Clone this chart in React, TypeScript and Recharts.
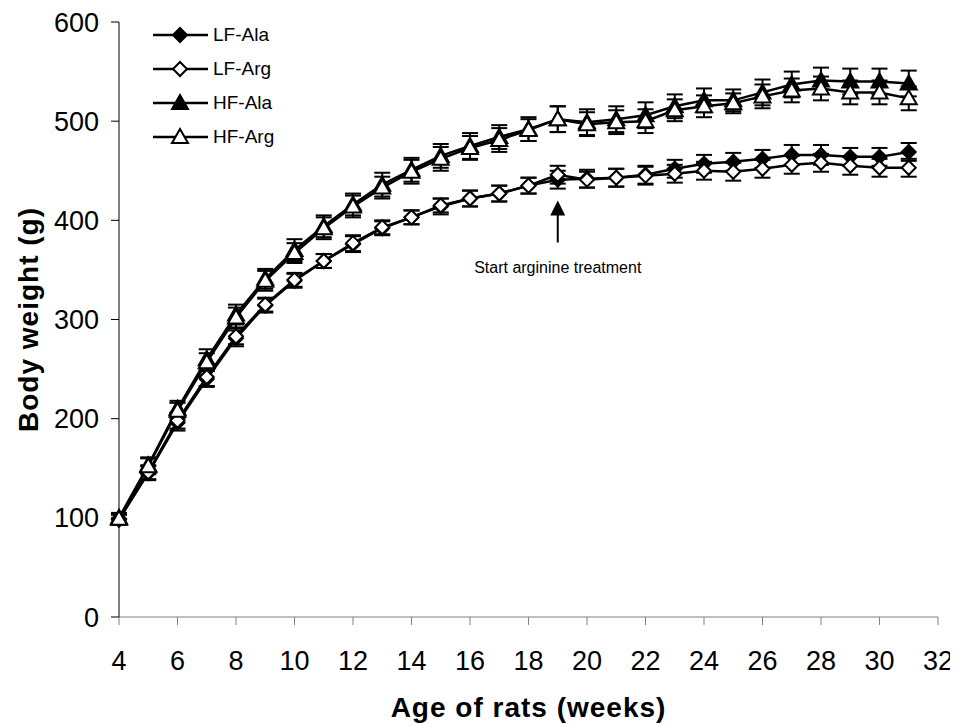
import { LineChart, Line, XAxis, YAxis, ErrorBar, Legend, ReferenceDot, Label } from 'recharts';

// age of rats, weeks
const weeks = [4, 5, 6, 7, 8, 9, 10, 11, 12, 13, 14, 15, 16, 17, 18, 19, 20, 21, 22, 23, 24, 25, 26, 27, 28, 29, 30, 31];

// body weight (g)
const lfAla = [99, 145, 196, 240, 281, 314, 339, 359, 376, 392, 403, 414, 422, 427, 435, 441, 442, 443, 446, 452, 457, 459, 462, 466, 466, 464, 464, 469];
const lfArg = [98, 146, 198, 242, 283, 315, 340, 359, 377, 393, 403, 415, 422, 427, 435, 446, 441, 443, 445, 447, 450, 449, 452, 456, 458, 455, 453, 453];
const hfAla = [100, 153, 210, 260, 305, 341, 370, 394, 416, 436, 451, 465, 475, 484, 492, 502, 499, 502, 506, 515, 521, 521, 529, 537, 541, 540, 540, 538];
const hfArg = [99, 152, 208, 257, 302, 339, 367, 392, 414, 433, 449, 462, 473, 481, 491, 502, 497, 499, 500, 511, 515, 518, 525, 531, 533, 529, 529, 523];

// SEM
const lfAlaErr = [5, 7, 8, 8, 8, 7, 7, 7, 8, 7, 7, 8, 8, 8, 8, 9, 9, 9, 9, 9, 9, 9, 9, 10, 10, 9, 9, 9];
const lfArgErr = [5, 7, 8, 9, 8, 7, 7, 7, 8, 7, 7, 7, 8, 8, 8, 9, 8, 9, 9, 9, 9, 9, 9, 9, 9, 9, 9, 9];
const hfAlaErr = [5, 8, 8, 10, 10, 10, 11, 11, 11, 12, 12, 12, 13, 12, 12, 13, 13, 13, 13, 12, 12, 11, 13, 13, 13, 13, 13, 13];
const hfArgErr = [5, 8, 8, 9, 10, 10, 10, 11, 11, 11, 12, 12, 12, 12, 11, 13, 12, 12, 12, 11, 11, 10, 12, 12, 12, 12, 12, 12];

const xTicks = [4, 6, 8, 10, 12, 14, 16, 18, 20, 22, 24, 26, 28, 30, 32];
const yTicks = [0, 100, 200, 300, 400, 500, 600];

const series = [
  { key: 'lfAla', name: 'LF-Ala', shape: 'diamond', fill: '#000' },
  { key: 'lfArg', name: 'LF-Arg', shape: 'diamond', fill: '#fff' },
  { key: 'hfAla', name: 'HF-Ala', shape: 'triangle', fill: '#000' },
  { key: 'hfArg', name: 'HF-Arg', shape: 'triangle', fill: '#fff' },
];

const data = weeks.map((week, i) => ({
  week,
  lfAla: lfAla[i],
  lfAlaErr: lfAlaErr[i],
  lfArg: lfArg[i],
  lfArgErr: lfArgErr[i],
  hfAla: hfAla[i],
  hfAlaErr: hfAlaErr[i],
  hfArg: hfArg[i],
  hfArgErr: hfArgErr[i],
}));

const font = '"Liberation Sans", Arial, Helvetica, sans-serif';

function markerPath(shape: string, cx: number, cy: number) {
  if (shape === 'diamond') {
    return `M${cx},${cy - 7}L${cx + 7},${cy}L${cx},${cy + 7}L${cx - 7},${cy}Z`;
  }
  return `M${cx},${cy - 8}L${cx + 8},${cy + 6}L${cx - 8},${cy + 6}Z`;
}

const makeDot = (shape: string, fill: string) => (props: any) => {
  const { cx, cy, index } = props;
  if (cx == null || cy == null) return <g key={index} />;
  return <path key={index} d={markerPath(shape, cx, cy)} fill={fill} stroke="#000" strokeWidth={2} />;
};

const renderLegend = () => (
  <div style={{ fontFamily: font, fontSize: 19, color: '#000' }}>
    {series.map((s) => (
      <div key={s.key} style={{ display: 'flex', alignItems: 'center', height: 34 }}>
        <svg width={56} height={34}>
          <line x1={0} y1={17} x2={55} y2={17} stroke="#000" strokeWidth={2.5} />
          <path d={markerPath(s.shape, 27, 17)} fill={s.fill} stroke="#000" strokeWidth={2} />
        </svg>
        <span style={{ marginLeft: 4 }}>{s.name}</span>
      </div>
    ))}
  </div>
);

const YTitle = (props: any) => {
  const { x, y, height } = props.viewBox;
  const cx = x + 20;
  const cy = y + height / 2;
  return (
    <text
      x={cx}
      y={cy}
      transform={`rotate(-90 ${cx} ${cy})`}
      textAnchor="middle"
      dominantBaseline="central"
      fontFamily={font}
      fontWeight="bold"
      fontSize={28}
      letterSpacing={1}
      fill="#000"
    >
      Body weight (g)
    </text>
  );
};

const XTitle = (props: any) => {
  const { x, y, width } = props.viewBox;
  return (
    <text
      x={x + width / 2}
      y={y + 100}
      textAnchor="middle"
      fontFamily={font}
      fontWeight="bold"
      fontSize={28}
      letterSpacing={1}
      fill="#000"
    >
      Age of rats (weeks)
    </text>
  );
};

const TreatmentArrow = (props: any) => {
  const { cx, cy } = props;
  return (
    <g>
      <line x1={cx} y1={cy + 14} x2={cx} y2={cy + 42} stroke="#000" strokeWidth={2} />
      <path d={`M${cx},${cy}L${cx + 7.5},${cy + 15}L${cx - 7.5},${cy + 15}Z`} fill="#000" />
      <text x={cx} y={cy + 72} textAnchor="middle" fontFamily={font} fontSize={16} fill="#000">
        Start arginine treatment
      </text>
    </g>
  );
};

export default function App() {
  return (
    <LineChart
      width={950}
      height={719}
      data={data}
      margin={{ top: 14, right: 20, bottom: 0, left: 0 }}
      style={{ fontFamily: font }}
    >
      <XAxis
        dataKey="week"
        type="number"
        domain={[4, 32]}
        ticks={xTicks}
        interval={0}
        stroke="#808080"
        tickSize={8}
        tickMargin={26}
        height={110}
        tick={{ fontSize: 27, fill: '#000', fontFamily: font }}
      >
        <Label content={XTitle} />
      </XAxis>
      <YAxis
        type="number"
        domain={[0, 600]}
        ticks={yTicks}
        interval={0}
        width={111}
        stroke="#000"
        tickSize={8}
        tickMargin={12}
        tick={{ fontSize: 27, fill: '#000', fontFamily: font }}
      >
        <Label content={YTitle} />
      </YAxis>
      <Legend
        content={renderLegend}
        layout="horizontal"
        verticalAlign="middle"
        align="center"
        wrapperStyle={{ position: 'absolute', top: 10, left: 145, width: 'auto' }}
      />
      {series.map((s) => (
        <Line
          key={s.key}
          dataKey={s.key}
          name={s.name}
          type="linear"
          stroke="#000"
          strokeWidth={2.5}
          dot={makeDot(s.shape, s.fill)}
          activeDot={false}
          isAnimationActive={false}
        >
          <ErrorBar dataKey={`${s.key}Err`} direction="y" width={8} stroke="#000" strokeWidth={2} />
        </Line>
      ))}
      <ReferenceDot x={19} y={420} r={0} shape={TreatmentArrow} />
    </LineChart>
  );
}
